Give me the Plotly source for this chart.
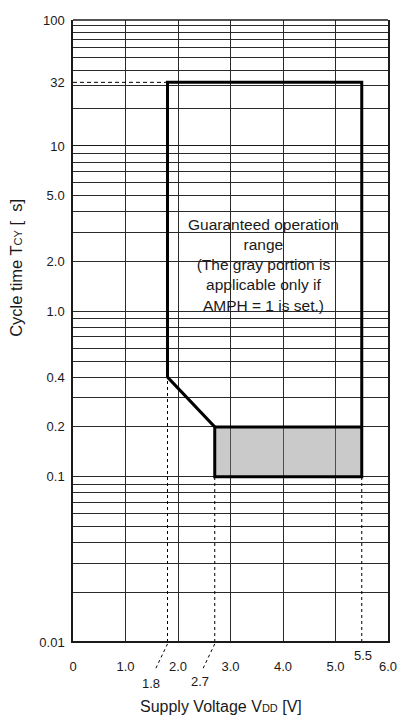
import plotly.graph_objects as go

# ---- data ----
voltage_ticks = [0, 1, 2, 3, 4, 5, 6]
voltage_tick_labels = ["0", "1.0", "2.0", "3.0", "4.0", "5.0", "6.0"]
cycle_ticks_low = [0.01, 0.1, 0.2, 0.4, 1, 2, 5, 10]
cycle_tick_labels_low = ["0.01", "0.1", "0.2", "0.4", "1.0", "2.0", "5.0", "10"]
cycle_ticks_high = [32, 100]
cycle_tick_labels_high = ["32", "100"]
grid_low = [k * 10.0 ** n for n in (-2, -1, 0) for k in range(1, 10)]
grid_high = [k * 10 for k in range(2, 10)]

v_min = 1.8        # V, lower supply limit
v_min_fast = 2.7   # V, lower limit for fast cycle
v_max = 5.5        # V
t_max = 32         # us
t_knee = 0.4
t_gray_top = 0.2
t_min = 0.1
t_axis_min = 0.01

boundary_v = [v_min, v_min, v_max, v_max, v_min_fast, v_min_fast, v_min]
boundary_t = [t_knee, t_max, t_max, t_min, t_min, t_gray_top, t_knee]
gray_v = [v_min_fast, v_max, v_max, v_min_fast, v_min_fast]
gray_t = [t_min, t_min, t_gray_top, t_gray_top, t_min]

FONT = "Liberation Sans, Arial, sans-serif"
GRID = "#2a2a2a"
INK = "#1a1a1a"

fig = go.Figure()

for ya in ("y", "y2"):
    fig.add_trace(go.Scatter(x=gray_v, y=gray_t, yaxis=ya, mode="lines", fill="toself",
                             fillcolor="rgba(128,128,128,0.42)", line=dict(width=0),
                             hoverinfo="skip", showlegend=False))

# dashed guide lines
fig.add_trace(go.Scatter(x=[v_min, v_min], y=[t_axis_min, t_knee], mode="lines",
                         line=dict(color="black", width=1, dash="3px,3px"), showlegend=False))
fig.add_trace(go.Scatter(x=[v_min_fast, v_min_fast], y=[t_axis_min, t_min], mode="lines",
                         line=dict(color="black", width=1, dash="3px,3px"), showlegend=False))
fig.add_trace(go.Scatter(x=[v_max, v_max], y=[t_axis_min, t_min], mode="lines",
                         line=dict(color="black", width=1, dash="3px,3px"), showlegend=False))
fig.add_trace(go.Scatter(x=[0, v_min], y=[t_max, t_max], yaxis="y2", mode="lines",
                         line=dict(color="black", width=1, dash="4px,3px"), showlegend=False))

# boundary of guaranteed operation range (drawn on both axis segments)
for ya in ("y", "y2"):
    fig.add_trace(go.Scatter(x=boundary_v, y=boundary_t, yaxis=ya, mode="lines",
                             line=dict(color="black", width=3), showlegend=False))
fig.add_trace(go.Scatter(x=[v_min_fast, v_max], y=[t_gray_top, t_gray_top], mode="lines",
                         line=dict(color="black", width=3), showlegend=False))

split = 496 / 622

fig.update_layout(
    width=402, height=716,
    margin=dict(l=73, r=14, t=20, b=74, autoexpand=False),
    paper_bgcolor="white", plot_bgcolor="white",
    font=dict(family=FONT, size=13, color=INK),
    showlegend=False,
    xaxis=dict(range=[0, 6], tickmode="array", tickvals=voltage_ticks,
               ticktext=voltage_tick_labels, showgrid=True, gridcolor=GRID, gridwidth=1,
               zeroline=False, showline=True, linecolor=INK, linewidth=1, mirror=True,
               ticks="", ticklabelstandoff=12, anchor="y", automargin=False,
               tickfont=dict(size=13)),
    yaxis=dict(type="log", range=[-2, 1], domain=[0, split], tickmode="array",
               tickvals=cycle_ticks_low, ticktext=cycle_tick_labels_low,
               showgrid=True, gridcolor=GRID, gridwidth=1,
               minor=dict(tickmode="array", tickvals=grid_low, showgrid=True,
                          gridcolor=GRID, gridwidth=1, ticks=""),
               zeroline=False, showline=True, linecolor=INK, linewidth=1.5, mirror=True,
               ticks="", ticklabelstandoff=4, anchor="x", automargin=False,
               tickfont=dict(size=13)),
    yaxis2=dict(type="log", range=[1, 2], domain=[split, 1], tickmode="array",
                tickvals=cycle_ticks_high, ticktext=cycle_tick_labels_high,
                showgrid=False,
                minor=dict(tickmode="array", tickvals=grid_high, showgrid=True,
                           gridcolor=GRID, gridwidth=1, ticks=""),
                zeroline=False, showline=True, linecolor=INK, linewidth=1.5, mirror=True,
                ticks="", ticklabelstandoff=4, anchor="x", automargin=False,
                tickfont=dict(size=13)),
)

# frame: thicker bottom axis line, top border
fig.add_shape(type="line", xref="paper", yref="paper", x0=0, x1=1, y0=0, y1=0,
              line=dict(color=INK, width=2))
fig.add_shape(type="line", xref="paper", yref="paper", x0=0, x1=1, y0=1, y1=1,
              line=dict(color=INK, width=1.5))

# slanted dashed leaders to the 1.8 / 2.7 labels
for v in (v_min, v_min_fast):
    fig.add_shape(type="line", xref="x", yref="paper", x0=v, y0=-0.003, x1=v - 0.22, y1=-0.042,
                  line=dict(color="black", width=1, dash="3px,3px"))

ann = [
    dict(x=v_min - 0.32, y=-0.066, text="1.8"),
    dict(x=v_min_fast - 0.29, y=-0.064, text="2.7"),
    dict(x=v_max + 0.02, y=-0.021, text="5.5"),
]
for a in ann:
    fig.add_annotation(xref="x", yref="paper", showarrow=False, xanchor="center",
                       yanchor="middle", font=dict(size=13, color=INK), **a)

fig.add_annotation(xref="paper", yref="paper", x=0.469, y=-0.104, showarrow=False,
                   xanchor="center", yanchor="middle", font=dict(size=16, color=INK),
                   text="Supply Voltage V<span style='font-size:11px'>DD</span> [V]")
fig.add_annotation(xref="paper", yref="paper", x=-0.179, y=0.601, showarrow=False,
                   textangle=-90, xanchor="center", yanchor="middle",
                   font=dict(size=16.5, color=INK),
                   text="Cycle time T<span style='font-size:11px'>CY</span> [ \u00a0s]")
fig.add_annotation(xref="x", yref="paper", x=3.63, y=0.606, showarrow=False,
                   xanchor="center", yanchor="middle", font=dict(size=15.5, color=INK),
                   text="Guaranteed operation<br>range<br>(The gray portion is<br>"
                        "applicable only if<br>AMPH = 1 is set.)")

fig.write_html("out.html", config={"displayModeBar": False},
               post_script="document.body.style.margin='0px';"
                           "document.body.style.overflow='hidden';")
